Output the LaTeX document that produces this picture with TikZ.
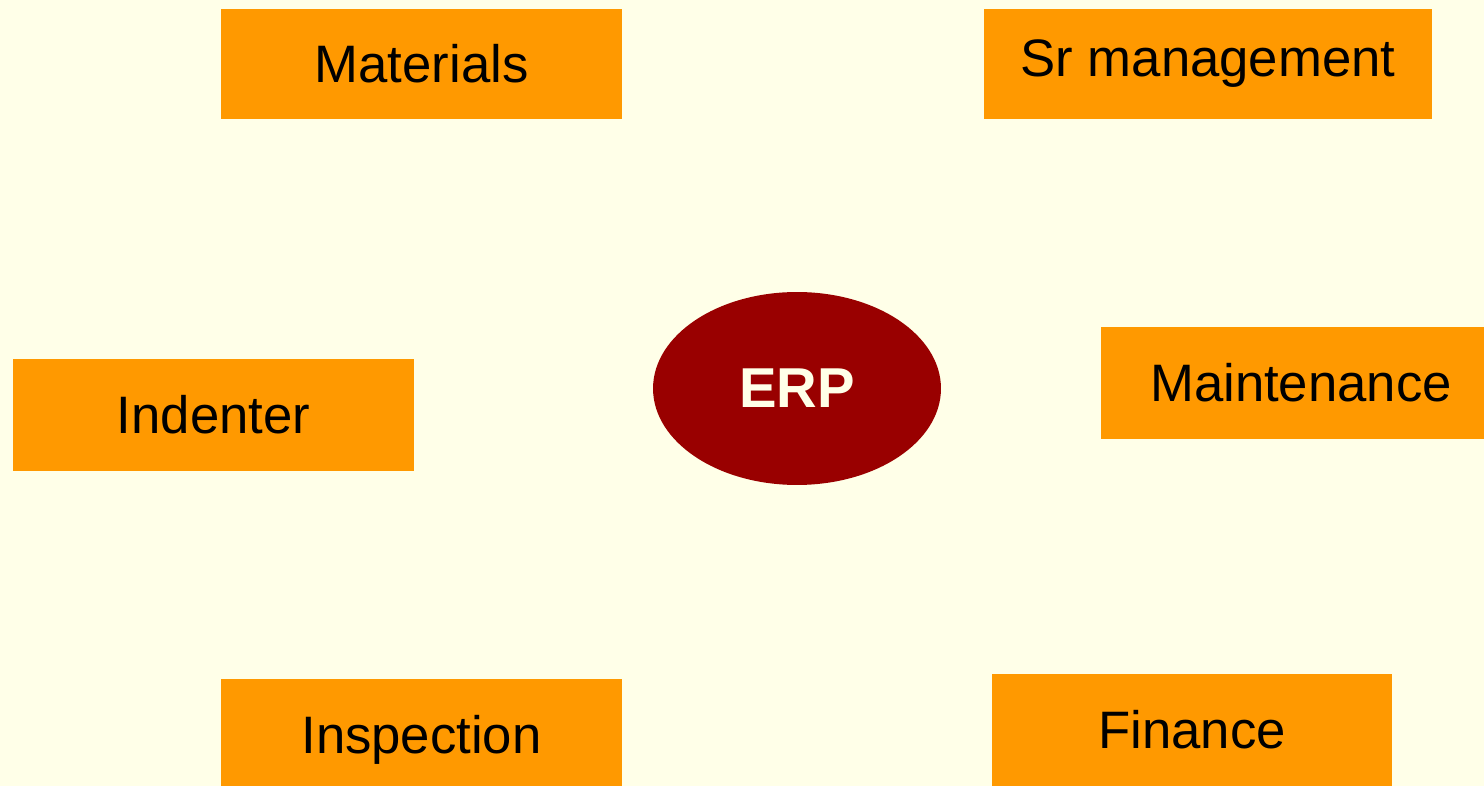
\documentclass[tikz,border=0pt]{standalone}
\usepackage{fontspec}
\setmainfont{Liberation Sans}
\usetikzlibrary{shapes.geometric}
\definecolor{fond}{HTML}{FFFFE8}
\definecolor{orange}{HTML}{FF9900}
\definecolor{rouge}{HTML}{990000}
\begin{document}
\begin{tikzpicture}[x=0.02cm, y=-0.02cm]
\tikzset{boite/.style={fill=orange, inner sep=0pt, minimum width=8.02cm, minimum height=2.2cm, font=\fontsize{30}{36}\selectfont}}
\useasboundingbox (0, 0) rectangle (1484, 786);
\clip (0, 0) rectangle (1484, 786);
\fill[fond] (0, 0) rectangle (1484, 786);
\node[boite] (M) at (421.5, 64) {Materials};
\node[boite, minimum width=8.96cm] (S) at (1208, 64) {Sr management};
\node[boite, minimum height=2.24cm] (I) at (213.5, 415) {Indenter};
\node[boite, minimum height=2.24cm] (N) at (1301, 383) {Maintenance};
\node[boite, minimum height=2.44cm] (P) at (421.5, 740) {Inspection};
\node[boite, minimum height=2.24cm] (F) at (1192, 730) {Finance};
\node[ellipse, fill=rouge, inner sep=0pt, minimum width=5.76cm, minimum height=3.86cm, text=fond, font=\fontsize{32}{38}\selectfont\bfseries] (E) at (797, 388.5) {ERP};
\end{tikzpicture}
\end{document}
